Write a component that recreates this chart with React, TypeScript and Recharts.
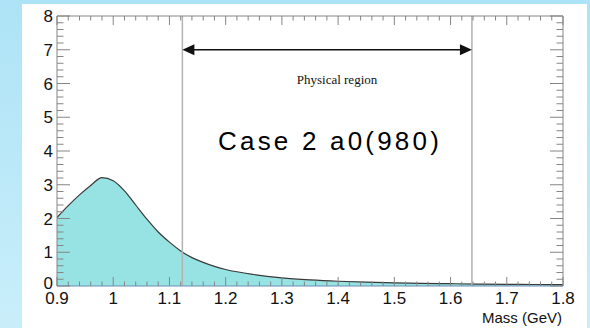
import React from 'react';
import { AreaChart, Area, XAxis, YAxis, ReferenceLine } from 'recharts';

// line shape
const massGeV = [
  0.9, 0.92, 0.94, 0.96, 0.98, 1.0, 1.02, 1.04, 1.06, 1.08, 1.1, 1.12, 1.14, 1.16, 1.18,
  1.2, 1.25, 1.3, 1.35, 1.4, 1.45, 1.5, 1.55, 1.6, 1.65, 1.7, 1.75, 1.8,
];
const lineShape = [
  2.03, 2.38, 2.7, 2.98, 3.21, 3.12, 2.82, 2.4, 1.98, 1.6, 1.3, 1.04, 0.84, 0.7, 0.58,
  0.49, 0.34, 0.24, 0.18, 0.14, 0.115, 0.095, 0.08, 0.068, 0.058, 0.05, 0.044, 0.04,
];

const xMajorTicks = [0.9, 1.0, 1.1, 1.2, 1.3, 1.4, 1.5, 1.6, 1.7, 1.8];
const yMajorTicks = [0, 1, 2, 3, 4, 5, 6, 7, 8];
const physicalRegion = [1.123, 1.638];
const arrowLevel = 7;

const data = massGeV.map((m, i) => ({ mass: m, value: lineShape[i] }));

function subdivide(major: number[], parts: number) {
  const out: number[] = [];
  for (let i = 0; i < major.length - 1; i++) {
    const step = (major[i + 1] - major[i]) / parts;
    for (let k = 0; k < parts; k++) out.push(+(major[i] + k * step).toFixed(4));
  }
  out.push(major[major.length - 1]);
  return out;
}
const xTicks = subdivide(xMajorTicks, 5);
const yTicks = subdivide(yMajorTicks, 5);
const isMajor = (v: number, majors: number[]) => majors.some((m) => Math.abs(m - v) < 1e-6);

const FRAME = '#858585';
const LABEL_FONT = '"Liberation Sans", Arial, Helvetica, sans-serif';

const BottomTick = ({ x, y, payload }: any) => {
  const major = isMajor(payload.value, xMajorTicks);
  return (
    <g>
      <line x1={x} x2={x} y1={y} y2={y - (major ? 9 : 4.5)} stroke={FRAME} />
      {major && (
        <text x={x} y={y + 18} textAnchor="middle" fontSize={17} fontFamily={LABEL_FONT} fill="#111">
          {String(payload.value)}
        </text>
      )}
    </g>
  );
};

const TopTick = ({ x, y, payload }: any) => {
  const major = isMajor(payload.value, xMajorTicks);
  return <line x1={x} x2={x} y1={y} y2={y + (major ? 9 : 4.5)} stroke={FRAME} />;
};

const LeftTick = ({ x, y, payload }: any) => {
  const major = isMajor(payload.value, yMajorTicks);
  const shift = payload.value === 0 ? -3 : 0;
  return (
    <g>
      <line x1={x} x2={x + (major ? 13 : 6.5)} y1={y} y2={y} stroke={FRAME} />
      {major && (
        <text x={x - 4} y={y + 6 + shift} textAnchor="end" fontSize={17} fontFamily={LABEL_FONT} fill="#111">
          {String(payload.value)}
        </text>
      )}
    </g>
  );
};

const RightTick = ({ x, y, payload }: any) => {
  const major = isMajor(payload.value, yMajorTicks);
  return <line x1={x} x2={x - (major ? 13 : 6.5)} y1={y} y2={y} stroke={FRAME} />;
};

const ArrowShape = ({ x1, y1, x2 }: any) => {
  const a = Math.min(x1, x2);
  const b = Math.max(x1, x2);
  return (
    <g>
      <line x1={a + 8} y1={y1} x2={b - 8} y2={y1} stroke="#111" strokeWidth={1.3} />
      <polygon points={`${a},${y1} ${a + 12},${y1 - 5.5} ${a + 12},${y1 + 5.5}`} fill="#111" />
      <polygon points={`${b},${y1} ${b - 12},${y1 - 5.5} ${b - 12},${y1 + 5.5}`} fill="#111" />
    </g>
  );
};

export default function App() {
  return (
    <div
      style={{
        position: 'absolute',
        left: 0,
        top: 0,
        width: 590,
        height: 328,
        overflow: 'hidden',
        background: 'linear-gradient(#ade3f6, #c9eefa)',
      }}
    >
      <div style={{ position: 'absolute', left: 22, top: 4, width: 565, height: 324, background: '#fff' }} />
      <div style={{ position: 'absolute', left: 0, top: 0 }}>
        <AreaChart width={590} height={328} data={data} margin={{ top: 15, right: 26, bottom: 12, left: 27 }}>
          <XAxis
            dataKey="mass"
            type="number"
            domain={[0.9, 1.8]}
            ticks={xTicks}
            interval={0}
            tick={<BottomTick />}
            tickLine={false}
            tickSize={0}
            tickMargin={0}
            height={30}
            axisLine={{ stroke: '#6a8db5' }}
            allowDataOverflow
          />
          <XAxis
            xAxisId="top"
            dataKey="mass"
            orientation="top"
            type="number"
            domain={[0.9, 1.8]}
            ticks={xTicks}
            interval={0}
            tick={<TopTick />}
            tickLine={false}
            tickSize={0}
            tickMargin={0}
            height={1}
            axisLine={{ stroke: FRAME }}
            allowDataOverflow
          />
          <YAxis
            type="number"
            domain={[0, 8]}
            ticks={yTicks}
            interval={0}
            tick={<LeftTick />}
            tickLine={false}
            tickSize={0}
            tickMargin={0}
            width={30}
            axisLine={{ stroke: FRAME }}
            allowDataOverflow
          />
          <YAxis
            yAxisId="right"
            orientation="right"
            type="number"
            domain={[0, 8]}
            ticks={yTicks}
            interval={0}
            tick={<RightTick />}
            tickLine={false}
            tickSize={0}
            tickMargin={0}
            width={1}
            axisLine={{ stroke: FRAME }}
            allowDataOverflow
          />
          <Area
            type="monotone"
            dataKey="value"
            fill="#97e3e3"
            fillOpacity={1}
            stroke="#3a3a3a"
            strokeWidth={1.2}
            dot={false}
            activeDot={false}
            isAnimationActive={false}
          />
          {physicalRegion.map((x) => (
            <ReferenceLine key={x} x={x} stroke="#b3b3b3" strokeWidth={1.5} />
          ))}
          <ReferenceLine
            segment={[
              { x: physicalRegion[0], y: arrowLevel },
              { x: physicalRegion[1], y: arrowLevel },
            ]}
            shape={<ArrowShape />}
          />
        </AreaChart>
      </div>
      <div
        style={{
          position: 'absolute',
          left: 237,
          width: 200,
          top: 73,
          textAlign: 'center',
          fontFamily: '"Liberation Serif", "Times New Roman", serif',
          fontSize: 13,
          lineHeight: '13px',
          color: '#111',
        }}
      >
        Physical region
      </div>
      <div
        style={{
          position: 'absolute',
          left: 218,
          top: 128,
          fontFamily: LABEL_FONT,
          fontSize: 26,
          lineHeight: '26px',
          letterSpacing: 3.2,
          color: '#000',
          whiteSpace: 'nowrap',
        }}
      >
        Case 2 a0(980)
      </div>
      <div
        style={{
          position: 'absolute',
          right: 28,
          top: 310,
          fontFamily: LABEL_FONT,
          fontSize: 15,
          lineHeight: '15px',
          color: '#111',
          whiteSpace: 'nowrap',
        }}
      >
        Mass (GeV)
      </div>
    </div>
  );
}
